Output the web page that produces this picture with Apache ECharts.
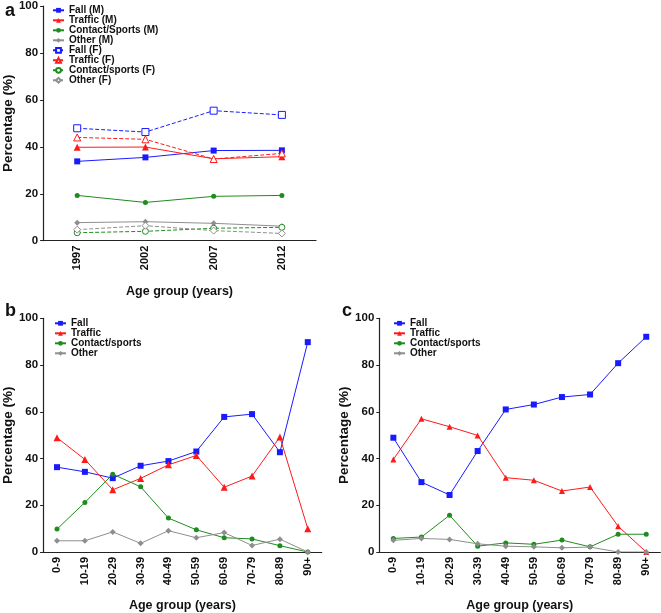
<!DOCTYPE html>
<html>
<head>
<meta charset="utf-8">
<script src="https://cdn.jsdelivr.net/npm/echarts@6/dist/echarts.min.js"></script>
<style>html,body{margin:0;padding:0;background:#fff}#c{width:661px;height:613px}</style>
</head>
<body>
<div id="c"></div>
<script>
// ---- Data ----
const yearsA = ['1997', '2002', '2007', '2012'];
const fallM = [33.8, 35.5, 38.4, 38.5];
const trafficM = [39.8, 39.9, 34.9, 35.8];
const contactM = [19.3, 16.3, 18.9, 19.3];
const otherM = [7.7, 8.1, 7.4, 6.2];
const fallF = [47.9, 46.3, 55.4, 53.6];
const trafficF = [44.0, 43.2, 34.8, 37.2];
const contactF = [3.4, 4.0, 5.3, 5.7];
const otherF = [4.7, 6.4, 4.3, 3.1];

const ageGroups = ['0-9', '10-19', '20-29', '30-39', '40-49', '50-59', '60-69', '70-79', '80-89', '90+'];
const fallB = [36.3, 34.3, 31.6, 36.9, 38.9, 43.0, 57.8, 59.0, 42.7, 89.8];
const trafficB = [48.9, 39.6, 26.6, 31.5, 37.3, 41.3, 27.7, 32.5, 49.2, 10.0];
const contactB = [9.8, 21.2, 33.3, 27.9, 14.5, 9.5, 6.1, 5.6, 2.7, 0];
const otherB = [4.8, 4.8, 8.6, 3.7, 9.1, 6.1, 8.3, 2.8, 5.5, 0];

const fallC = [48.9, 29.9, 24.4, 43.2, 61.0, 63.1, 66.3, 67.4, 80.8, 92.1];
const trafficC = [39.6, 57.0, 53.6, 49.9, 31.8, 30.7, 26.1, 27.8, 11.0, 0];
const contactC = [5.8, 6.4, 15.7, 2.5, 3.9, 3.3, 5.1, 2.2, 7.6, 7.6];
const otherC = [5.0, 5.8, 5.4, 3.5, 2.5, 2.2, 1.8, 2.1, 0, 0];

const yTicks = [0, 20, 40, 60, 80, 100];

// ---- Styles ----
const BLUE = '#1a1aff', RED = '#ff1a1a', GREEN = '#1f8c1f', GRAY = '#8e8e8e';
const TXT = '#111';
const FONT = 'Liberation Sans, Arial, sans-serif';

function mk(name, data, gi, color, symbol, size, hollow, dashed) {
  return {
    name: name, type: 'line', data: data,
    xAxisIndex: gi, yAxisIndex: gi,
    symbol: symbol, symbolSize: size,
    showSymbol: true,
    lineStyle: { color: color, width: 1, type: dashed ? [4, 2] : 'solid' },
    itemStyle: { color: hollow ? '#fff' : color, borderColor: color, borderWidth: hollow ? 1 : 0 },
    emphasis: { disabled: true },
    animation: false
  };
}

const grids = [
  { left: 39, top: 6, width: 277, height: 234.7 },
  { left: 39.3, top: 318.3, width: 282.4, height: 239.4 },
  { left: 379.3, top: 318.3, width: 281, height: 239.4 }
];

function xAx(gi, data, nameGap) {
  return {
    type: 'category', gridIndex: gi, data: data, boundaryGap: true,
    name: 'Age group (years)', nameLocation: 'middle', nameGap: nameGap,
    nameTextStyle: { fontFamily: FONT, fontWeight: 'bold', fontSize: 12.5, color: TXT },
    axisLine: { lineStyle: { color: '#222', width: 1.2 } },
    axisTick: { alignWithLabel: true, length: 3, lineStyle: { color: '#222' } },
    axisLabel: { rotate: 90, fontFamily: FONT, fontWeight: 'bold', fontSize: 11, color: TXT, margin: 5 },
    splitLine: { show: false }
  };
}
function yAx(gi) {
  return {
    type: 'value', gridIndex: gi, min: yTicks[0], max: yTicks[yTicks.length - 1], interval: 20,
    name: 'Percentage (%)', nameLocation: 'middle', nameGap: 26, nameRotate: 90,
    nameTextStyle: { fontFamily: FONT, fontWeight: 'bold', fontSize: 13.5, color: TXT },
    axisLine: { show: true, lineStyle: { color: '#222', width: 1.2 } },
    axisTick: { show: true, length: 3, lineStyle: { color: '#222' } },
    axisLabel: { fontFamily: FONT, fontWeight: 'bold', fontSize: 11.5, color: TXT, margin: 5 },
    splitLine: { show: false }
  };
}

const series = [
  mk('Fall (M)', fallM, 0, BLUE, 'rect', 6, false, false),
  mk('Traffic (M)', trafficM, 0, RED, 'triangle', 7, false, false),
  mk('Contact/Sports (M)', contactM, 0, GREEN, 'circle', 5, false, false),
  mk('Other (M)', otherM, 0, GRAY, 'diamond', 6, false, false),
  mk('Fall (F)', fallF, 0, BLUE, 'rect', 7, true, true),
  mk('Traffic (F)', trafficF, 0, RED, 'triangle', 7, true, true),
  mk('Contact/sports (F)', contactF, 0, GREEN, 'circle', 6, true, true),
  mk('Other (F)', otherF, 0, GRAY, 'diamond', 7, true, true),

  mk('Fall', fallB, 1, BLUE, 'rect', 6, false, false),
  mk('Traffic', trafficB, 1, RED, 'triangle', 7, false, false),
  mk('Contact/sports', contactB, 1, GREEN, 'circle', 5, false, false),
  mk('Other', otherB, 1, GRAY, 'diamond', 6, false, false),

  mk('Fall', fallC, 2, BLUE, 'rect', 6, false, false),
  mk('Traffic', trafficC, 2, RED, 'triangle', 6, false, false),
  mk('Contact/sports', contactC, 2, GREEN, 'circle', 5, false, false),
  mk('Other', otherC, 2, GRAY, 'diamond', 6, false, false)
];

const legendCommon = {
  orient: 'vertical', itemWidth: 11, itemHeight: 6, itemGap: 0,
  selectedMode: false,
  textStyle: { fontFamily: FONT, fontWeight: 'bold', fontSize: 10, color: TXT, lineHeight: 10 }
};

const chart = echarts.init(document.getElementById('c'), null, { renderer: 'canvas' });
chart.setOption({
  animation: false,
  grid: grids,
  xAxis: [xAx(0, yearsA, 44), xAx(1, ageGroups, 47), xAx(2, ageGroups, 47)],
  yAxis: [yAx(0), yAx(1), yAx(2)],
  legend: [
    Object.assign({}, legendCommon, { left: 47, top: 0.3, data: ['Fall (M)', 'Traffic (M)', 'Contact/Sports (M)', 'Other (M)', 'Fall (F)', 'Traffic (F)', 'Contact/sports (F)', 'Other (F)'] }),
    Object.assign({}, legendCommon, { left: 49, top: 313.3, data: ['Fall', 'Traffic', 'Contact/sports', 'Other'] }),
    Object.assign({}, legendCommon, { left: 388, top: 313.3, data: ['Fall', 'Traffic', 'Contact/sports', 'Other'] })
  ],
  graphic: [
    { type: 'text', left: 5, top: 2, style: { text: 'a', font: 'bold 18px ' + FONT, fill: TXT } },
    { type: 'text', left: 5, top: 302, style: { text: 'b', font: 'bold 18px ' + FONT, fill: TXT } },
    { type: 'text', left: 342, top: 302, style: { text: 'c', font: 'bold 18px ' + FONT, fill: TXT } }
  ],
  series: series
});
</script>
</body>
</html>
